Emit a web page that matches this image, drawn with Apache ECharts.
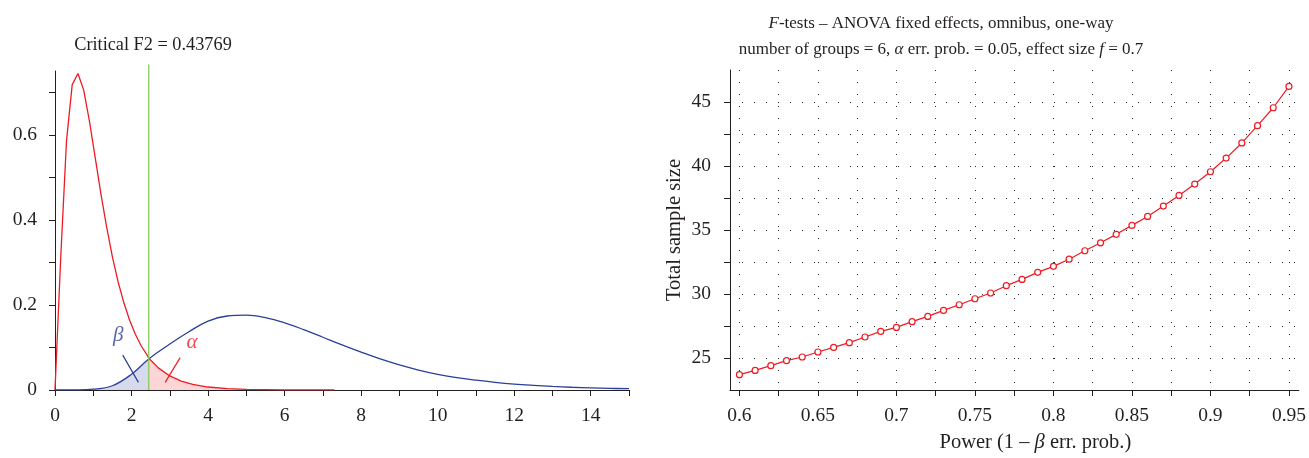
<!DOCTYPE html>
<html>
<head>
<meta charset="utf-8">
<script src="https://cdn.jsdelivr.net/npm/echarts@6/dist/echarts.min.js"></script>
<style>
html, body { margin: 0; padding: 0; background: #fff; }
#main { width: 1309px; height: 458px; }
</style>
</head>
<body>
<div id="main"></div>
<script>
// left panel - central F (H0) and noncentral F (H1) densities
var h0X = [0, 0.15, 0.3, 0.45, 0.6, 0.75, 0.9, 1.05, 1.2, 1.35, 1.5, 1.65, 1.8, 1.95, 2.1, 2.25, 2.4, 2.45, 2.55, 2.7, 3.0, 3.3, 3.6, 4.0, 4.5, 5.0, 6.0, 7.3];
var h0Density = [0, 0.312, 0.585, 0.718, 0.744, 0.705, 0.632, 0.547, 0.461, 0.383, 0.313, 0.254, 0.205, 0.164, 0.131, 0.104, 0.083, 0.075, 0.066, 0.052, 0.033, 0.021, 0.013, 0.007, 0.0034, 0.0016, 0.0004, 0.0001];
var h1X = [0, 0.5, 1, 1.5, 2, 2.45, 3, 3.5, 4, 4.5, 5, 5.5, 6, 6.5, 7, 7.5, 8, 8.5, 9, 9.5, 10, 10.5, 11, 11.5, 12, 12.5, 13, 13.5, 14, 14.5, 15];
var h1Density = [0, 0.0003, 0.002, 0.010, 0.037, 0.073, 0.108, 0.137, 0.162, 0.174, 0.176, 0.170, 0.158, 0.142, 0.124, 0.106, 0.089, 0.073, 0.059, 0.047, 0.037, 0.029, 0.023, 0.018, 0.014, 0.011, 0.0085, 0.0065, 0.005, 0.0038, 0.003];
var criticalF = 2.45;
var fTicks = [0, 1, 2, 3, 4, 5, 6, 7, 8, 9, 10, 11, 12, 13, 14, 15];
var fLabels = [0, 2, 4, 6, 8, 10, 12, 14];
var densTicks = [0, 0.1, 0.2, 0.3, 0.4, 0.5, 0.6, 0.7];
var densLabels = [0, 0.2, 0.4, 0.6];
var betaPointer = [[1.77, 0.082], [2.18, 0.018]];
var alphaPointer = [[3.27, 0.076], [2.88, 0.018]];
var betaPos = [1.65, 0.129];
var alphaPos = [3.58, 0.112];

// right panel - total sample size vs power
var power = [0.60, 0.61, 0.62, 0.63, 0.64, 0.65, 0.66, 0.67, 0.68, 0.69, 0.70, 0.71, 0.72, 0.73, 0.74, 0.75, 0.76, 0.77, 0.78, 0.79, 0.80, 0.81, 0.82, 0.83, 0.84, 0.85, 0.86, 0.87, 0.88, 0.89, 0.90, 0.91, 0.92, 0.93, 0.94, 0.95];
var sampleSize = [23.70, 24.03, 24.40, 24.79, 25.08, 25.47, 25.83, 26.20, 26.64, 27.08, 27.39, 27.84, 28.25, 28.72, 29.16, 29.63, 30.08, 30.65, 31.14, 31.69, 32.16, 32.72, 33.38, 34.00, 34.66, 35.36, 36.06, 36.87, 37.70, 38.59, 39.55, 40.62, 41.80, 43.15, 44.55, 46.22];
var powerTicks = [0.6, 0.625, 0.65, 0.675, 0.7, 0.725, 0.75, 0.775, 0.8, 0.825, 0.85, 0.875, 0.9, 0.925, 0.95];
var powerLabels = [0.6, 0.65, 0.7, 0.75, 0.8, 0.85, 0.9, 0.95];
var sizeTicks = [25, 27.5, 30, 32.5, 35, 37.5, 40, 42.5, 45];
var sizeLabels = [25, 30, 35, 40, 45];

var FONT = 'Liberation Serif';
var RED = '#ec1c24';
var BLUE = '#2b3f98';
var INK = '#231f20';
var TICK_FONT = 19.5;
var NAME_FONT = 20.5;

function pairs(xs, ys, test) {
    var out = [];
    for (var i = 0; i < xs.length; i++) {
        if (!test || test(xs[i])) out.push([xs[i], ys[i]]);
    }
    return out;
}

var chart = echarts.init(document.getElementById('main'));

var axisLine = { show: true, lineStyle: { color: INK, width: 1 } };
var dotted = { show: true, lineStyle: { color: '#2a2a2a', width: 1, type: [1, 11] } };

var option = {
    animation: false,
    backgroundColor: '#fff',
    title: [
        {
            text: 'Critical F2 = 0.43769',
            left: 148, top: 31, textAlign: 'center',
            textStyle: { fontFamily: FONT, fontSize: 18.3, fontWeight: 'normal', color: INK }
        },
        {
            text: '{i|F}-tests – ANOVA fixed effects, omnibus, one-way\nnumber of groups = 6, {i|α} err. prob. = 0.05, effect size {i|f} = 0.7',
            left: 936, top: 6, textAlign: 'center',
            textStyle: {
                fontFamily: FONT, fontSize: 17, fontWeight: 'normal', color: INK, lineHeight: 26,
                rich: { i: { fontFamily: FONT, fontSize: 17, fontStyle: 'italic', color: INK, lineHeight: 26 } }
            }
        }
    ],
    grid: [
        { left: 55, top: 71, width: 574, height: 319 },
        { left: 730, top: 70, width: 570, height: 320 }
    ],
    xAxis: [
        {
            type: 'value', gridIndex: 0, min: 0, max: 15,
            axisLine: axisLine,
            axisTick: { show: true, length: 6, customValues: fTicks, lineStyle: { color: INK } },
            axisLabel: { color: INK, fontFamily: FONT, fontSize: TICK_FONT, margin: 16, customValues: fLabels },
            splitLine: { show: false }
        },
        {
            type: 'value', gridIndex: 1, min: 0.594, max: 0.9563,
            name: 'Power (1 – {i|β} err. prob.)',
            nameLocation: 'middle', nameGap: 42,
            nameTextStyle: {
                fontFamily: FONT, fontSize: NAME_FONT, color: INK, padding: [0, 0, 0, 42],
                rich: { i: { fontFamily: FONT, fontSize: NAME_FONT, fontStyle: 'italic', color: INK } }
            },
            axisLine: axisLine,
            axisTick: { show: true, length: 6, customValues: powerTicks, lineStyle: { color: INK } },
            axisLabel: { color: INK, fontFamily: FONT, fontSize: TICK_FONT, margin: 16, customValues: powerLabels },
            splitLine: dotted
        }
    ],
    yAxis: [
        {
            type: 'value', gridIndex: 0, min: 0, max: 0.75,
            axisLine: axisLine,
            axisTick: { show: true, length: 6, customValues: densTicks, lineStyle: { color: INK } },
            axisLabel: { color: INK, fontFamily: FONT, fontSize: TICK_FONT, margin: 18, customValues: densLabels },
            splitLine: { show: false }
        },
        {
            type: 'value', gridIndex: 1, min: 22.5, max: 47.5,
            name: 'Total sample size',
            nameLocation: 'middle', nameGap: 45, nameRotate: 90,
            nameTextStyle: { fontFamily: FONT, fontSize: NAME_FONT, color: INK },
            axisLine: axisLine,
            axisTick: { show: true, length: 6, customValues: sizeTicks, lineStyle: { color: INK } },
            axisLabel: { color: INK, fontFamily: FONT, fontSize: TICK_FONT, margin: 19, customValues: sizeLabels },
            splitLine: dotted
        }
    ],
    series: [
        {
            // beta area
            type: 'line', xAxisIndex: 0, yAxisIndex: 0,
            data: pairs(h1X, h1Density, function (x) { return x <= criticalF; }),
            smooth: 0.4, showSymbol: false,
            lineStyle: { width: 0 }, areaStyle: { color: '#d7daec', opacity: 1 }, z: 1
        },
        {
            // alpha area
            type: 'line', xAxisIndex: 0, yAxisIndex: 0,
            data: pairs(h0X, h0Density, function (x) { return x >= criticalF; }),
            showSymbol: false,
            lineStyle: { width: 0 }, areaStyle: { color: '#fcd6d7', opacity: 1 }, z: 1
        },
        {
            type: 'line', xAxisIndex: 0, yAxisIndex: 0,
            data: pairs(h0X, h0Density), showSymbol: false,
            lineStyle: { color: RED, width: 1.3 }, z: 3
        },
        {
            type: 'line', xAxisIndex: 0, yAxisIndex: 0,
            data: pairs(h1X, h1Density), smooth: 0.4, showSymbol: false,
            lineStyle: { color: BLUE, width: 1.3 }, z: 3
        },
        {
            // critical value
            type: 'line', xAxisIndex: 0, yAxisIndex: 0, clip: false,
            data: [[criticalF, 0], [criticalF, 0.765]], showSymbol: false,
            lineStyle: { color: '#86c95b', width: 1.3 }, z: 4
        },
        {
            type: 'line', xAxisIndex: 0, yAxisIndex: 0,
            data: betaPointer, showSymbol: false,
            lineStyle: { color: BLUE, width: 1.2 }, z: 5
        },
        {
            type: 'line', xAxisIndex: 0, yAxisIndex: 0,
            data: alphaPointer, showSymbol: false,
            lineStyle: { color: RED, width: 1.2 }, z: 5
        },
        {
            type: 'scatter', xAxisIndex: 0, yAxisIndex: 0, symbolSize: 0,
            data: [betaPos],
            label: { show: true, position: 'inside', formatter: 'β', fontFamily: FONT, fontSize: 21, fontStyle: 'italic', color: BLUE }
        },
        {
            type: 'scatter', xAxisIndex: 0, yAxisIndex: 0, symbolSize: 0,
            data: [alphaPos],
            label: { show: true, position: 'inside', formatter: 'α', fontFamily: FONT, fontSize: 21, fontStyle: 'italic', color: RED }
        },
        {
            type: 'line', xAxisIndex: 1, yAxisIndex: 1,
            data: pairs(power, sampleSize),
            symbol: 'circle', symbolSize: 6, showSymbol: true,
            itemStyle: { color: '#fff', borderColor: RED, borderWidth: 1.2 },
            lineStyle: { color: RED, width: 1.2 }, z: 3
        }
    ]
};
chart.setOption(option);
</script>
</body>
</html>
